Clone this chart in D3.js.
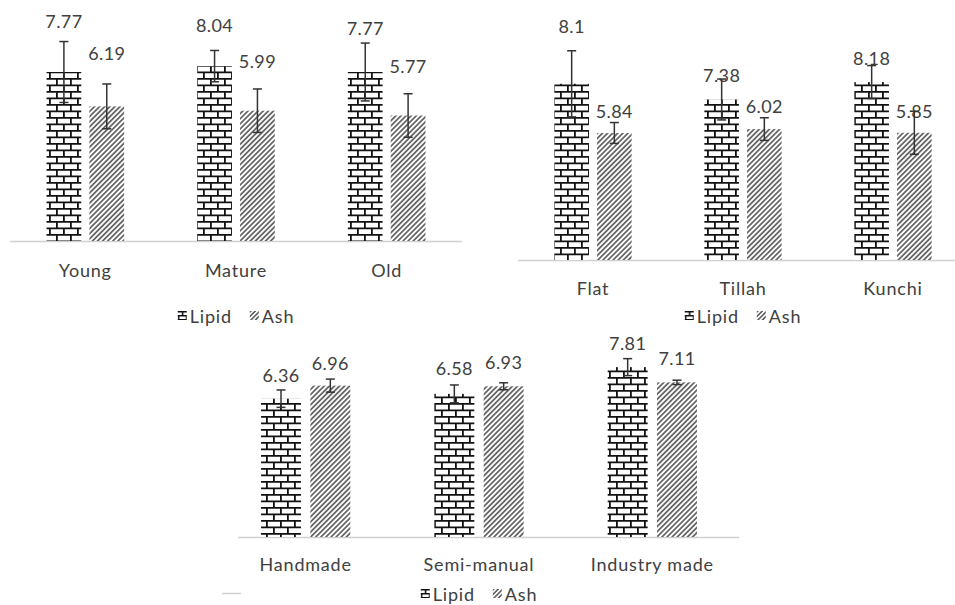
<!DOCTYPE html>
<html>
<head>
<meta charset="utf-8">
<script src="https://cdn.jsdelivr.net/npm/d3@7"></script>
<style>
  body { margin: 0; background: #fff; }
  svg { display: block; }
  text { font-family: Lato, "Open Sans", sans-serif; fill: #404040; }
  text.cat, text.key { letter-spacing: 0.8px; }
  text.val { letter-spacing: 0.4px; }
</style>
</head>
<body>
<svg id="chart" width="955" height="605"></svg>
<script>
// Lipid and ash content (mean ± SD) by plant age
const ageCategories = ["Young", "Mature", "Old"];
const ageLipid      = [7.77, 8.04, 7.77];
const ageLipidErr   = [1.40, 0.72, 1.33];
const ageAsh        = [6.19, 5.99, 5.77];
const ageAshErr     = [1.03, 1.00, 1.00];

// by product shape
const shapeCategories = ["Flat", "Tillah", "Kunchi"];
const shapeLipid      = [8.1, 7.38, 8.18];
const shapeLipidErr   = [1.52, 0.94, 0.76];
const shapeAsh        = [5.84, 6.02, 5.85];
const shapeAshErr     = [0.48, 0.52, 0.99];

// by production method
const methodCategories = ["Handmade", "Semi-manual", "Industry made"];
const methodLipid      = [6.36, 6.58, 7.81];
const methodLipidErr   = [0.40, 0.41, 0.39];
const methodAsh        = [6.96, 6.93, 7.11];
const methodAshErr     = [0.30, 0.16, 0.10];

const seriesNames = ["Lipid", "Ash"];
const yDomain = [0, 10];

// panel layout: plot range, baseline, label offsets (px above bar top)
const panels = [
  { cats: ageCategories, vals: [ageLipid, ageAsh], errs: [ageLipidErr, ageAshErr],
    range: [10, 462], axisFrom: 10, axisTo: 462, base: 241, catDy: 36, legendDy: 82,
    lift: [[44, 46], [34, 43], [37, 43]] },
  { cats: shapeCategories, vals: [shapeLipid, shapeAsh], errs: [shapeLipidErr, shapeAshErr],
    range: [518, 968], axisFrom: 518, axisTo: 968, base: 260, catDy: 35, legendDy: 63,
    lift: [[51, 15], [17, 16], [17, 15]] },
  { cats: methodCategories, vals: [methodLipid, methodAsh], errs: [methodLipidErr, methodAshErr],
    range: [219, 739], axisFrom: 238, axisTo: 739, base: 537, catDy: 34, legendDy: 64,
    lift: [[17, 16], [19, 17], [17, 17]] }
];

const svg = d3.select("#chart");
const defs = svg.append("defs");

// brick fill for Lipid
function brick(id, w, h, sw) {
  const p = defs.append("pattern").attr("id", id)
    .attr("patternUnits", "userSpaceOnUse").attr("width", w).attr("height", h);
  p.append("rect").attr("width", w).attr("height", h).attr("fill", "#fff");
  const hh = h / 2;
  p.append("path")
    .attr("d", `M0 ${sw/2}H${w} M0 ${hh + sw/2}H${w} M${sw/2} ${sw/2}V${hh + sw/2} M${w/2 + sw/2} ${hh + sw/2}V${h} M${w/2 + sw/2} 0V${sw/2}`)
    .attr("stroke", "#111").attr("stroke-width", sw).attr("fill", "none");
}
brick("brick", 14, 13, 1.8);
brick("brickKey", 8, 8, 1.6);

// diagonal hatch fill for Ash
function hatch(id, gap, sw, col) {
  const p = defs.append("pattern").attr("id", id)
    .attr("patternUnits", "userSpaceOnUse").attr("width", gap).attr("height", 10)
    .attr("patternTransform", "rotate(45)");
  p.append("rect").attr("width", gap).attr("height", 10).attr("fill", "#fff");
  p.append("line").attr("x1", gap / 2).attr("x2", gap / 2).attr("y1", 0).attr("y2", 10)
    .attr("stroke", col).attr("stroke-width", sw);
}
hatch("hatch", 3.6, 1.5, "#4a4a4a");
hatch("hatchKey", 3.2, 1.4, "#4a4a4a");

const fills = ["url(#brick)", "url(#hatch)"];
const keyFills = ["url(#brickKey)", "url(#hatchKey)"];

panels.forEach(pn => {
  const g = svg.append("g");
  const x0 = d3.scaleBand().domain(pn.cats).range(pn.range).paddingInner(0).paddingOuter(0);
  const bw = x0.bandwidth();
  const groupW = bw * 0.515;
  const x1 = d3.scaleBand().domain(seriesNames)
    .range([(bw - groupW) / 2, (bw + groupW) / 2]).paddingInner(0.19).paddingOuter(0);
  const y = d3.scaleLinear().domain(yDomain).range([pn.base, pn.base - 217.5]);

  // category axis line
  g.append("line")
    .attr("x1", pn.axisFrom).attr("x2", pn.axisTo)
    .attr("y1", pn.base + 0.5).attr("y2", pn.base + 0.5)
    .attr("stroke", "#d0d0d0").attr("stroke-width", 1.5);

  const rows = [];
  pn.cats.forEach((c, i) => {
    seriesNames.forEach((s, k) => {
      rows.push({ cat: c, ci: i, s, k, v: pn.vals[k][i], e: pn.errs[k][i] });
    });
  });

  // bars
  g.selectAll("rect.bar").data(rows).join("rect").attr("class", "bar")
    .attr("x", d => x0(d.cat) + x1(d.s))
    .attr("width", x1.bandwidth())
    .attr("y", d => y(d.v))
    .attr("height", d => y(0) - y(d.v))
    .attr("fill", d => fills[d.k]);

  // value labels
  g.selectAll("text.val").data(rows).join("text").attr("class", "val")
    .attr("x", d => x0(d.cat) + x1(d.s) + x1.bandwidth() / 2)
    .attr("y", d => y(d.v) - pn.lift[d.ci][d.k])
    .attr("text-anchor", "middle")
    .attr("font-size", 18)
    .text(d => d.v);

  // error bars
  const eb = g.selectAll("g.err").data(rows).join("g").attr("class", "err")
    .attr("transform", d => `translate(${x0(d.cat) + x1(d.s) + x1.bandwidth() / 2},0)`)
    .attr("stroke", "#333").attr("stroke-width", 1.5);
  eb.append("line").attr("y1", d => y(d.v + d.e)).attr("y2", d => y(d.v - d.e));
  eb.append("line").attr("x1", -4.5).attr("x2", 4.5).attr("y1", d => y(d.v + d.e)).attr("y2", d => y(d.v + d.e));
  eb.append("line").attr("x1", -4.5).attr("x2", 4.5).attr("y1", d => y(d.v - d.e)).attr("y2", d => y(d.v - d.e));

  // category labels
  g.selectAll("text.cat").data(pn.cats).join("text").attr("class", "cat")
    .attr("x", d => x0(d) + bw / 2)
    .attr("y", pn.base + pn.catDy)
    .attr("text-anchor", "middle")
    .attr("font-size", 18)
    .text(d => d);

  // legend, centred under the plot
  const lg = g.append("g");
  let cx = 0;
  seriesNames.forEach((s, k) => {
    lg.append("rect").attr("x", cx).attr("y", -12).attr("width", 9).attr("height", 9)
      .attr("fill", keyFills[k]);
    cx += 12;
    const t = lg.append("text").attr("class", "key").attr("x", cx).attr("y", 0)
      .attr("font-size", 18).text(s);
    cx += t.node().getComputedTextLength() + 18;
  });
  const lw = cx - 18;
  const mid = (pn.range[0] + pn.range[1]) / 2;
  lg.attr("transform", `translate(${mid - lw / 2},${pn.base + pn.legendDy})`);
});

// short rule at the lower left
svg.append("line").attr("x1", 222).attr("x2", 241).attr("y1", 593.5).attr("y2", 593.5)
  .attr("stroke", "#d0d0d0").attr("stroke-width", 1.5);
</script>
</body>
</html>
